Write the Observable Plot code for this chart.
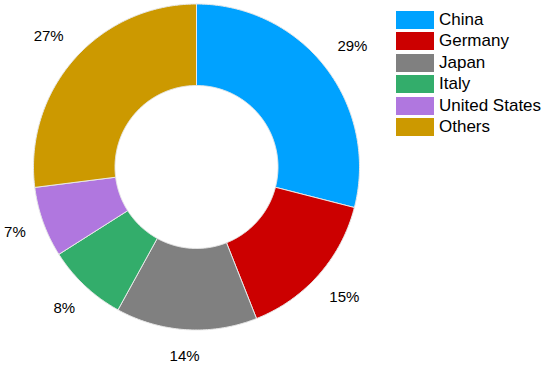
<!DOCTYPE html>
<html>
<head>
<meta charset="utf-8">
<script src="https://cdn.jsdelivr.net/npm/d3@7"></script>
<script src="https://cdn.jsdelivr.net/npm/@observablehq/plot@0.6"></script>
<style>
  html, body { margin: 0; padding: 0; background: #fff; }
  #wrap { position: relative; width: 550px; height: 367px; font-family: Arial, "Liberation Sans", sans-serif; }
  #legend { position: absolute; left: 396px; top: 11px; }
  .row { display: flex; align-items: center; height: 18px; margin-bottom: 3.4px; }
  .sw { width: 38px; height: 18px; margin-right: 5px; }
  .lab { font-size: 17px; color: #000; line-height: 18px; white-space: nowrap; }
</style>
</head>
<body>
<div id="wrap"><div id="chart"></div><div id="legend"></div></div>
<script>
const categories = ["China", "Germany", "Japan", "Italy", "United States", "Others"];
const values = [29, 15, 14, 8, 7, 27];
const colors = ["#00A2FF", "#CC0000", "#808080", "#33AD6B", "#B077DF", "#CC9900"];
const labels = ["29%", "15%", "14%", "8%", "7%", "27%"];

const R = 163;            // outer radius in px (for label box offset)
const innerRatio = 0.5;
const labelGap = 1.113;   // label box touches this radius (ratio of R)

const pie = d3.pie().sort(null).value(d => d.value)(categories.map((name, i) => ({name, value: values[i]})));

const pts = [];
for (const arc of pie) {
  const a0 = arc.startAngle, a1 = arc.endAngle;
  const n = Math.max(8, Math.ceil((a1 - a0) / 0.01));
  const ring = [];
  for (let k = 0; k <= n; k++) { const a = a0 + (a1 - a0) * k / n; ring.push([Math.sin(a), Math.cos(a)]); }
  for (let k = n; k >= 0; k--) { const a = a0 + (a1 - a0) * k / n; ring.push([innerRatio * Math.sin(a), innerRatio * Math.cos(a)]); }
  ring.push(ring[0]);
  for (const [x, y] of ring) pts.push({name: arc.data.name, x, y});
}

const labelData = pie.map((arc, i) => {
  const a = (arc.startAngle + arc.endAngle) / 2;
  const s = Math.sin(a), c = Math.cos(a);
  const hw = labels[i].length * 4.9, hh = 7;
  const r = labelGap + (Math.abs(s) * hw + Math.abs(c) * hh) / R;
  return {x: r * s, y: r * c, text: labels[i]};
});

const chart = Plot.plot({
  width: 550,
  height: 367,
  margin: 0,
  style: {fontFamily: 'Arial, "Liberation Sans", sans-serif', background: "#fff"},
  x: {domain: [-1, 1], range: [33, 359], axis: null},
  y: {domain: [-1, 1], range: [329.5, 3.5], axis: null},
  color: {domain: categories, range: colors},
  marks: [
    Plot.line(pts, {x: "x", y: "y", z: "name", fill: "name", stroke: "#e8e8e8", strokeWidth: 1, curve: "linear"}),
    Plot.text(labelData, {x: "x", y: "y", text: "text", fontSize: 15, fill: "#000"})
  ]
});
document.getElementById("chart").appendChild(chart);

const legend = document.getElementById("legend");
categories.forEach((c, i) => {
  const row = document.createElement("div");
  row.className = "row";
  row.innerHTML = `<div class="sw" style="background:${colors[i]}"></div><div class="lab">${c}</div>`;
  legend.appendChild(row);
});
</script>
</body>
</html>
